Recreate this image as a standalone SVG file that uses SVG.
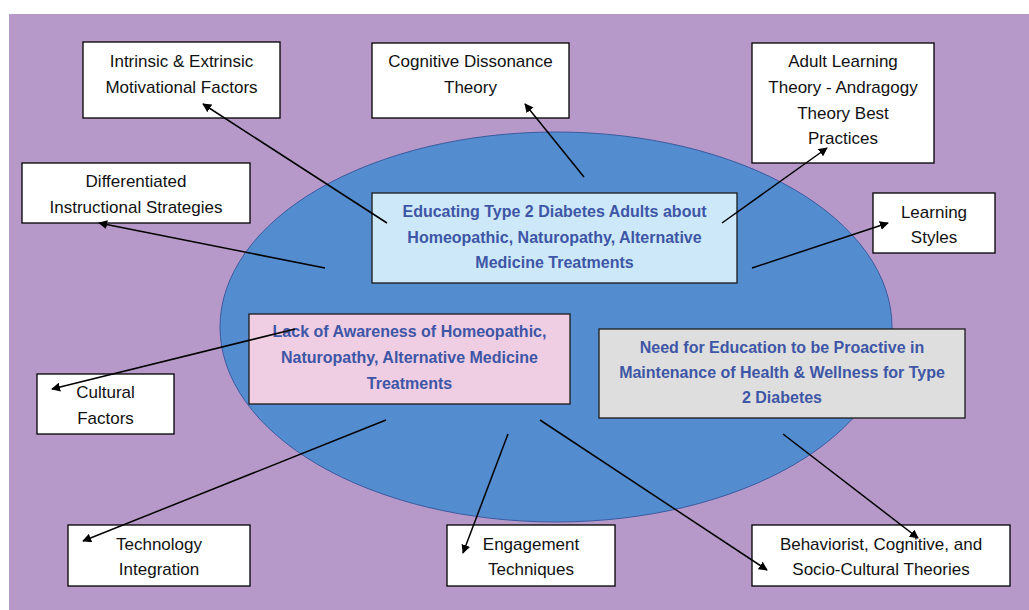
<svg xmlns="http://www.w3.org/2000/svg" width="1029" height="610" viewBox="0 0 1029 610">
<defs>
<style>
.box{fill:#ffffff;stroke:#000;stroke-width:1.3}
.t{font-family:"Liberation Sans",Arial,sans-serif;font-size:17px;fill:#111;text-anchor:middle}
.b{font-family:"Liberation Sans",Arial,sans-serif;font-size:16px;font-weight:bold;fill:#3E56A6;text-anchor:middle}
.cbox{stroke:#1a1a1a;stroke-width:1.3}
.con{stroke:#000;stroke-width:1.5;fill:none;marker-end:url(#ah)}
</style>
<marker id="ah" viewBox="0 0 10 10" refX="9" refY="5" markerWidth="9" markerHeight="9" markerUnits="userSpaceOnUse" orient="auto">
<path d="M0,0 L10,5 L0,10 z" fill="#000"/>
</marker>
</defs>
<rect x="0" y="0" width="1029" height="610" fill="#ffffff"/>
<rect x="9" y="14" width="1020" height="596" fill="#B799C9"/>
<ellipse id="ellipse" cx="556" cy="327" rx="336" ry="195" fill="#548DCF" stroke="#3B5AA0" stroke-width="1"/>

<g id="n-intrinsic"><rect class="box" x="83" y="42" width="197" height="76"/>
<text class="t" x="181.5" y="67">Intrinsic &amp; Extrinsic</text><text class="t" x="181.5" y="93">Motivational Factors</text></g>

<g id="n-cognitive"><rect class="box" x="372" y="43" width="197" height="75"/>
<text class="t" x="470.5" y="67">Cognitive Dissonance</text><text class="t" x="470.5" y="93">Theory</text></g>

<g id="n-adult"><rect class="box" x="752" y="43" width="182" height="120"/>
<text class="t" x="843" y="67">Adult Learning</text><text class="t" x="843" y="93">Theory - Andragogy</text><text class="t" x="843" y="119">Theory Best</text><text class="t" x="843" y="144">Practices</text></g>

<g id="n-learning"><rect class="box" x="873" y="193" width="122" height="60"/>
<text class="t" x="934" y="218">Learning</text><text class="t" x="934" y="243">Styles</text></g>

<g id="n-differentiated"><rect class="box" x="22" y="163" width="228" height="60"/>
<text class="t" x="136" y="187">Differentiated</text><text class="t" x="136" y="213">Instructional Strategies</text></g>

<g id="n-cultural"><rect class="box" x="37" y="374" width="137" height="60"/>
<text class="t" x="105.5" y="398">Cultural</text><text class="t" x="105.5" y="424">Factors</text></g>

<g id="n-technology"><rect class="box" x="68" y="525" width="182" height="61"/>
<text class="t" x="159" y="550">Technology</text><text class="t" x="159" y="575">Integration</text></g>

<g id="n-engagement"><rect class="box" x="447" y="525" width="168" height="61"/>
<text class="t" x="531" y="550">Engagement</text><text class="t" x="531" y="575">Techniques</text></g>

<g id="n-behaviorist"><rect class="box" x="752" y="525" width="258" height="61"/>
<text class="t" x="881" y="550">Behaviorist, Cognitive, and</text><text class="t" x="881" y="575">Socio-Cultural Theories</text></g>

<g id="n-educating"><rect class="cbox" x="372" y="193" width="365" height="90" fill="#CDE8F9"/>
<text class="b" x="554.5" y="217">Educating Type 2 Diabetes Adults about</text><text class="b" x="554.5" y="243">Homeopathic, Naturopathy, Alternative</text><text class="b" x="554.5" y="268">Medicine Treatments</text></g>

<g id="n-lack"><rect class="cbox" x="249" y="314" width="321" height="90" fill="#EFCDE3"/>
<text class="b" x="409.5" y="337">Lack of Awareness of Homeopathic,</text><text class="b" x="409.5" y="363">Naturopathy, Alternative Medicine</text><text class="b" x="409.5" y="389">Treatments</text></g>

<g id="n-need"><rect class="cbox" x="599" y="329" width="366" height="89" fill="#DEDEDE"/>
<text class="b" x="782" y="353">Need for Education to be Proactive in</text><text class="b" x="782" y="378">Maintenance of Health &amp; Wellness for Type</text><text class="b" x="782" y="403">2 Diabetes</text></g>

<g id="connectors">
<line class="con" x1="387" y1="223" x2="203" y2="104"/>
<line class="con" x1="584" y1="177" x2="525" y2="104"/>
<line class="con" x1="722" y1="223" x2="827" y2="148"/>
<line class="con" x1="752" y1="268" x2="888" y2="223"/>
<line class="con" x1="325" y1="268" x2="99" y2="223"/>
<line class="con" x1="295" y1="329" x2="52" y2="389"/>
<line class="con" x1="386" y1="420" x2="83" y2="541"/>
<line class="con" x1="508" y1="434" x2="463" y2="553"/>
<line class="con" x1="540" y1="420" x2="767" y2="570"/>
<line class="con" x1="783" y1="434" x2="918" y2="538"/>
</g>
</svg>
